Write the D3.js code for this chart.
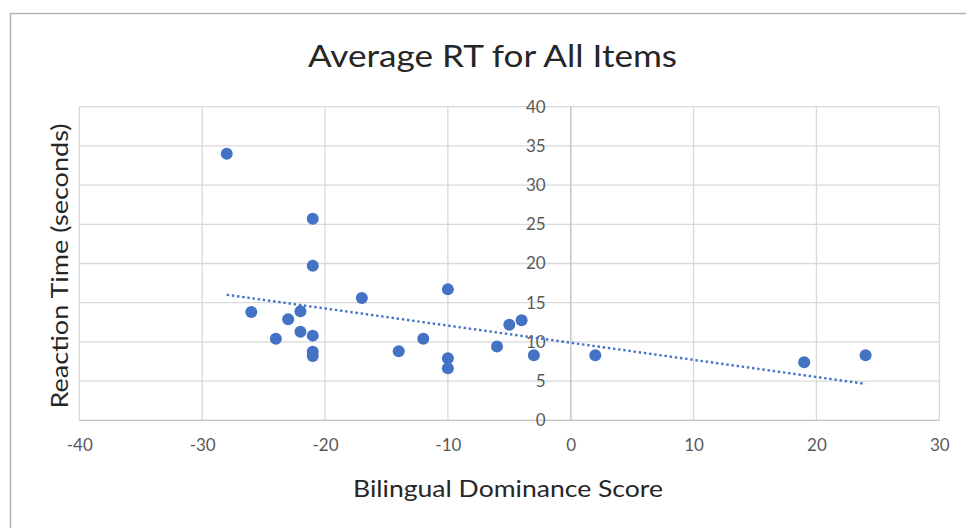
<!DOCTYPE html>
<html lang="en">
<head>
    <meta charset="utf-8">
    <title>Average RT for All Items</title>
    <style type="text/css">
        body {
            margin: 0;
            background: #ffffff;
        }
        svg {
            display: block;
        }
        .tick text {
            font-family: Lato, 'Open Sans', sans-serif;
            font-size: 17px;
            fill: #595959;
        }
        .chartTitle {
            font-family: Lato, 'Open Sans', sans-serif;
            font-size: 31px;
            fill: #262626;
        }
        .axisTitle {
            font-family: Lato, 'Open Sans', sans-serif;
            font-size: 23px;
            fill: #262626;
        }
    </style>
</head>
<body>
<script src="https://cdn.jsdelivr.net/npm/d3@7"></script>
<script>
    // values
    let dominanceScore = [-28, -21, -21, -26, -22, -23, -22, -21, -24, -21, -21, -17,
        -14, -12, -10, -10, -10, -6, -5, -4, -3, 2, 19, 24];
    let reactionTime = [34, 25.7, 19.7, 13.8, 13.9, 12.9, 11.3, 10.8, 10.4, 8.75, 8.2, 15.6,
        8.8, 10.4, 16.7, 7.9, 6.65, 9.4, 12.2, 12.75, 8.3, 8.3, 7.4, 8.3];

    let xTicks = [-40, -30, -20, -10, 0, 10, 20, 30];
    let yTicks = [0, 5, 10, 15, 20, 25, 30, 35, 40];

    let width = 966,
        height = 528;

    //plot area of the excel style chart
    let plot = {left: 79.3, right: 939.3, top: 106.7, bottom: 420.3};

    let svg = d3.select("body").append("svg")
        .attr("width", width)
        .attr("height", height);

    // outer chart border (only left and top show in the frame)
    svg.append("rect")
        .attr("x", 10.5)
        .attr("y", 13.5)
        .attr("width", 1000)
        .attr("height", 1000)
        .attr("fill", "none")
        .attr("stroke", "#b4b4b4")
        .attr("stroke-width", 1.5);

    let x = d3.scaleLinear()
        .domain([-40, 30])
        .range([plot.left, plot.right]);

    let y = d3.scaleLinear()
        .domain([0, 40])
        .range([plot.bottom, plot.top]);

    //gridlines
    svg.append("g")
        .selectAll("line")
        .data(xTicks)
        .enter().append("line")
        .attr("x1", d => x(d))
        .attr("x2", d => x(d))
        .attr("y1", y(0))
        .attr("y2", y(40))
        .attr("stroke", "#d9d9d9")
        .attr("stroke-width", 1.3);

    svg.append("g")
        .selectAll("line")
        .data(yTicks)
        .enter().append("line")
        .attr("x1", x(-40))
        .attr("x2", x(30))
        .attr("y1", d => y(d))
        .attr("y2", d => y(d))
        .attr("stroke", "#d9d9d9")
        .attr("stroke-width", 1.3);

    // vertical axis crosses at x = 0
    svg.append("line")
        .attr("x1", x(0))
        .attr("x2", x(0))
        .attr("y1", y(0))
        .attr("y2", y(40))
        .attr("stroke", "#c6c6c6")
        .attr("stroke-width", 1.3);

    svg.append("line")
        .attr("x1", x(-40))
        .attr("x2", x(30))
        .attr("y1", y(0))
        .attr("y2", y(0))
        .attr("stroke", "#c6c6c6")
        .attr("stroke-width", 1.3);

    //axes, labels only (plain hyphen for negatives like excel)
    let plainFormat = d => String(d);

    let xAxis = svg.append("g")
        .attr("transform", "translate(0," + (y(0) + 16) + ")")
        .call(d3.axisBottom(x).tickValues(xTicks).tickSize(0).tickFormat(plainFormat));
    xAxis.select(".domain").remove();
    xAxis.selectAll("text").attr("dy", "0.71em");

    let yAxis = svg.append("g")
        .attr("transform", "translate(" + (x(0) - 22) + ",0)")
        .call(d3.axisLeft(y).tickValues(yTicks).tickSize(0).tickFormat(plainFormat));
    yAxis.select(".domain").remove();

    //linear trendline from least squares
    let mx = d3.mean(dominanceScore),
        my = d3.mean(reactionTime);
    let sxy = d3.sum(dominanceScore, (d, i) => (d - mx) * (reactionTime[i] - my));
    let sxx = d3.sum(dominanceScore, d => (d - mx) * (d - mx));
    let slope = sxy / sxx,
        intercept = my - slope * mx;
    let xExtent = d3.extent(dominanceScore);

    svg.append("line")
        .attr("x1", x(xExtent[0]))
        .attr("x2", x(xExtent[1]))
        .attr("y1", y(intercept + slope * xExtent[0]))
        .attr("y2", y(intercept + slope * xExtent[1]))
        .attr("stroke", "#4472c4")
        .attr("stroke-width", 2.4)
        .attr("stroke-dasharray", "2.4,2.8");

    //points
    svg.append("g")
        .selectAll("circle")
        .data(dominanceScore)
        .enter().append("circle")
        .attr("cx", d => x(d))
        .attr("cy", (d, i) => y(reactionTime[i]))
        .attr("r", 6)
        .attr("fill", "#4472c4");

    //titles
    svg.append("text")
        .attr("class", "chartTitle")
        .attr("x", 492.5)
        .attr("y", 67)
        .attr("text-anchor", "middle")
        .attr("textLength", 369)
        .attr("lengthAdjust", "spacingAndGlyphs")
        .text("Average RT for All Items");

    svg.append("text")
        .attr("class", "axisTitle")
        .attr("x", 508)
        .attr("y", 497)
        .attr("text-anchor", "middle")
        .attr("textLength", 310)
        .attr("lengthAdjust", "spacingAndGlyphs")
        .text("Bilingual Dominance Score");

    svg.append("text")
        .attr("class", "axisTitle")
        .attr("transform", "translate(68,266) rotate(-90)")
        .attr("text-anchor", "middle")
        .attr("textLength", 285)
        .attr("lengthAdjust", "spacingAndGlyphs")
        .text("Reaction Time (seconds)");
</script>
</body>
</html>
